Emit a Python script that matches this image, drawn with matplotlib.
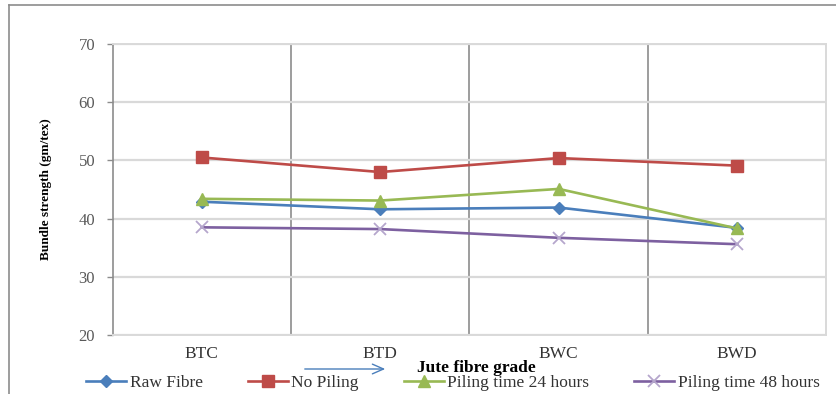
import matplotlib.pyplot as plt
from matplotlib.lines import Line2D
from matplotlib.ticker import FixedLocator

# bundle strength (gm/tex) per jute grade
grades = ["BTC", "BTD", "BWC", "BWD"]
raw_fibre = [42.9, 41.6, 41.9, 38.4]
no_piling = [50.5, 48.0, 50.4, 49.1]
piling_24h = [43.4, 43.1, 45.1, 38.3]
piling_48h = [38.5, 38.2, 36.7, 35.6]
y_ticks = [20, 30, 40, 50, 60, 70]

W, H = 836, 394
fig = plt.figure(figsize=(W / 100, H / 100), dpi=100)
plt.rcParams['font.family'] = ['Liberation Serif', 'DejaVu Serif']

# plot area in pixel terms
left, right, top, bottom = 112.5, 826.5, 44, 335
ax = fig.add_axes([left / W, 1 - bottom / H, (right - left) / W, (bottom - top) / H])

x = list(range(len(grades)))
ax.plot(x, raw_fibre, color="#4a7ebb", lw=1.9, marker="D", ms=6,
        label="Raw Fibre", zorder=3)
ax.plot(x, no_piling, color="#be4b48", lw=1.9, marker="s", ms=8,
        label="No Piling", zorder=3)
ax.plot(x, piling_24h, color="#98b954", lw=1.9, marker="^", ms=9,
        label="Piling time 24 hours", zorder=3)
ax.plot(x, piling_48h, color="#7d60a0", lw=1.9, marker="x", ms=8,
        mec="#b5a6cc", mew=1.3, label="Piling time 48 hours", zorder=3)

ax.set_xlim(-0.5, len(grades) - 0.5)
ax.set_ylim(20, 70)
ax.set_yticks(y_ticks)
ax.set_xticks(x)
ax.set_xticklabels(grades)
ax.xaxis.set_minor_locator(FixedLocator([0.5, 1.5, 2.5]))

ax.grid(axis="y", which="major", color="#d9d9d9", lw=1.6)
ax.grid(axis="x", which="minor", color="#8c8c8c", lw=1.2)
ax.set_axisbelow(True)

ax.tick_params(axis="y", direction="out", length=4.5, width=1, color="#8c8c8c",
               pad=8, labelsize=12, labelcolor="#595959")
ax.tick_params(axis="x", which="major", length=0, pad=8, labelsize=12.5,
               labelcolor="#333333")
ax.tick_params(axis="x", which="minor", length=0)

for side in ("top", "right", "bottom"):
    ax.spines[side].set_color("#d9d9d9")
    ax.spines[side].set_linewidth(1.4)
ax.spines["left"].set_color("#8c8c8c")
ax.spines["left"].set_linewidth(1.2)

fig.text(46 / W, 1 - 189 / H, "Bundle strength (gm/tex)", rotation=90,
         ha="center", va="center", fontsize=9.5, fontweight="bold")

# axis title with a pointer arrow in front of it
fig.text(476 / W, 1 - 368 / H, "Jute fibre grade", ha="center", va="center",
         fontsize=12.5, fontweight="bold")
ax.annotate("", xy=(388 / W, 1 - 369 / H), xytext=(302 / W, 1 - 369 / H),
            xycoords="figure fraction",
            arrowprops=dict(arrowstyle="->,head_length=0.8,head_width=0.35",
                            color="#4a7ebb", lw=1.0))

fig.legend(loc="center", bbox_to_anchor=(453 / W, 1 - 383 / H), ncol=4,
           frameon=False, fontsize=12.5, handlelength=2.3, handletextpad=0.2,
           columnspacing=2.6, borderpad=0, labelcolor="#333333")

# outer chart border
fig.add_artist(Line2D([9 / W, 9 / W], [0, 1 - 5 / H], color="#8c8c8c", lw=1.2))
fig.add_artist(Line2D([9 / W, 1], [1 - 5 / H, 1 - 5 / H], color="#8c8c8c", lw=1.2))

fig.savefig("out.png", dpi=100)
